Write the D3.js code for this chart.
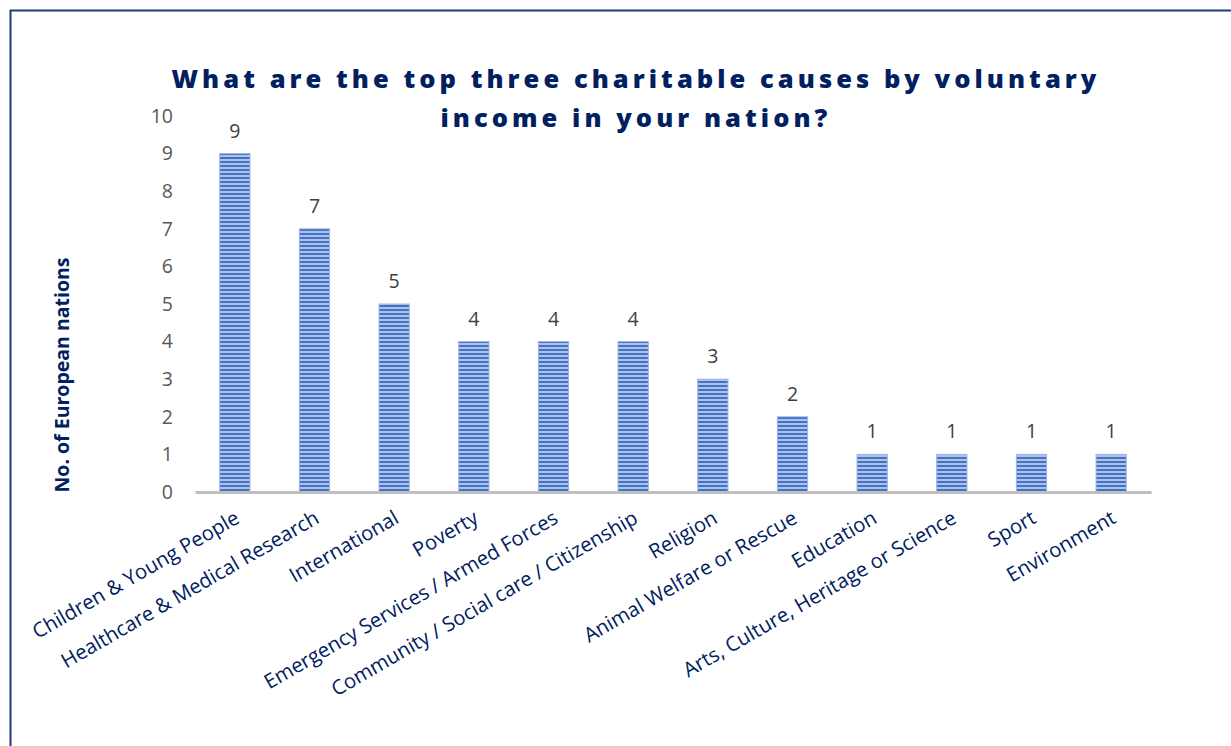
<!DOCTYPE html>
<html>
<head>
<meta charset="utf-8">
<script src="https://cdn.jsdelivr.net/npm/d3@7"></script>
<style>
  body { margin: 0; background: #fff; }
  svg { display: block; }
</style>
</head>
<body>
<div id="chart"></div>
<script>
'use strict';

const categories = [
  'Children & Young People',
  'Healthcare & Medical Research',
  'International',
  'Poverty',
  'Emergency Services / Armed Forces',
  'Community / Social care / Citizenship',
  'Religion',
  'Animal Welfare or Rescue',
  'Education',
  'Arts, Culture, Heritage or Science',
  'Sport',
  'Environment'
];
const nations = [9, 7, 5, 4, 4, 4, 3, 2, 1, 1, 1, 1];
const yTicks = [0, 1, 2, 3, 4, 5, 6, 7, 8, 9, 10];
const titleLines = ['What are the top three charitable causes by voluntary', 'income in your nation?'];
const yTitle = 'No. of European nations';

const W = 1231, H = 746;
const navy = '#002060';
const font = '"Open Sans", "Noto Sans", sans-serif';

const svg = d3.select('#chart').append('svg')
  .attr('width', W).attr('height', H);

// striped fill for the bars
const pat = svg.append('defs').append('pattern')
  .attr('id', 'stripes')
  .attr('patternUnits', 'userSpaceOnUse')
  .attr('width', 8).attr('height', 4);
pat.append('rect').attr('width', 8).attr('height', 4).attr('fill', '#adc2e9');
pat.append('rect').attr('y', 1).attr('width', 8).attr('height', 2).attr('fill', '#4472c4');

// outer frame (runs off the right and bottom edge)
svg.append('rect')
  .attr('x', 10.5).attr('y', 10.5)
  .attr('width', W + 20).attr('height', H + 20)
  .attr('fill', 'none')
  .attr('stroke', '#1f3a7a').attr('stroke-width', 2);

const x = d3.scaleBand()
  .domain(categories)
  .range([195, 1151])
  .paddingInner(0.62)
  .paddingOuter(0.31);

const y = d3.scaleLinear()
  .domain([0, 10])
  .range([492, 116]);

// title
const title = svg.append('text')
  .attr('text-anchor', 'middle')
  .attr('font-family', font)
  .attr('font-weight', 800)
  .attr('font-size', 25.5)
  .attr('letter-spacing', 4.05)
  .attr('fill', navy);
titleLines.forEach((t, i) => {
  title.append('tspan')
    .attr('x', 636).attr('y', 88 + i * 39)
    .text(t);
});

// y axis labels (no line)
const yAxis = svg.append('g')
  .attr('transform', 'translate(173,0)')
  .call(d3.axisLeft(y).tickValues(yTicks).tickSize(0).tickPadding(0));
yAxis.select('.domain').remove();
yAxis.selectAll('text')
  .attr('font-family', font)
  .attr('font-size', 19.5)
  .attr('fill', '#595959');

svg.append('text')
  .attr('transform', `translate(69,375) rotate(-90)`)
  .attr('text-anchor', 'middle')
  .attr('font-family', font)
  .attr('font-weight', 700)
  .attr('font-size', 19.5)
  .attr('fill', navy)
  .text(yTitle);

// bars
svg.append('g').selectAll('rect')
  .data(nations)
  .join('rect')
  .attr('x', (d, i) => x(categories[i]))
  .attr('y', d => y(d))
  .attr('width', x.bandwidth())
  .attr('height', d => y(0) - y(d))
  .attr('fill', 'url(#stripes)')
  .attr('stroke', '#9db5e0')
  .attr('stroke-width', 1);

// value labels
svg.append('g').selectAll('text')
  .data(nations)
  .join('text')
  .attr('x', (d, i) => x(categories[i]) + x.bandwidth() / 2)
  .attr('y', d => y(d) - 16)
  .attr('text-anchor', 'middle')
  .attr('font-family', font)
  .attr('font-size', 19.5)
  .attr('fill', '#404040')
  .text(d => d);

// x axis
const xAxis = svg.append('g')
  .attr('transform', `translate(0,${y(0)})`)
  .call(d3.axisBottom(x).tickSize(0).tickPadding(0));
xAxis.select('.domain')
  .attr('stroke', '#bfbfbf')
  .attr('stroke-width', 3);
xAxis.selectAll('text')
  .attr('font-family', font)
  .attr('font-size', 20.3)
  .attr('fill', navy)
  .attr('text-anchor', 'end')
  .attr('dy', 0)
  .attr('transform', 'translate(6,30) rotate(-30)');
</script>
</body>
</html>
